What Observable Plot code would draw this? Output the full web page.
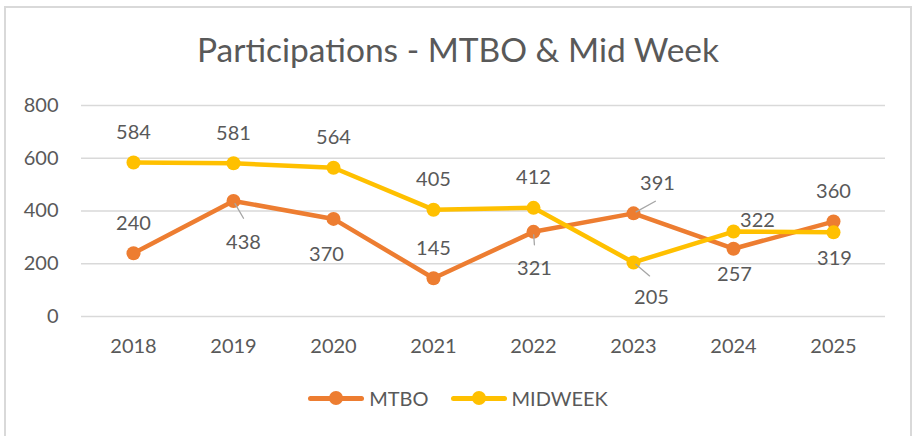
<!DOCTYPE html>
<html>
<head>
<meta charset="utf-8">
<script src="https://cdn.jsdelivr.net/npm/d3@7"></script>
<script src="https://cdn.jsdelivr.net/npm/@observablehq/plot@0.6"></script>
<style>
  html, body { margin: 0; padding: 0; background: #fff; }
  body { width: 916px; height: 436px; overflow: hidden; font-family: Lato, "Open Sans", sans-serif; }
  #wrap { position: relative; width: 916px; height: 436px; }
  #frame { position: absolute; left: 4px; top: 6px; width: 908px; height: 440px; border: 2px solid #d9d9d9; box-sizing: border-box; pointer-events: none; }
  #title { position: absolute; left: 0; width: 916px; top: 28px; text-align: center; font-size: 33.5px; color: #595959; line-height: 42px; }
  #legend { position: absolute; top: 386px; left: 0; width: 916px; display: flex; justify-content: center; align-items: center; gap: 22px; font-size: 20px; color: #595959; padding-left: 0px; box-sizing: border-box; }
  .item { display: flex; align-items: center; gap: 5px; }
  .sym { position: relative; width: 56px; height: 14px; }
  .sym .ln { position: absolute; left: 0; right: 0; top: 5px; height: 4.5px; border-radius: 3px; }
  .sym .dt { position: absolute; left: 21px; top: 0; width: 14px; height: 14px; border-radius: 50%; }
  #chart { position: absolute; left: 0; top: 0; }
</style>
</head>
<body>
<div id="wrap">
  <div id="chart"></div>
  <div id="frame"></div>
  <div id="title">Participations - MTBO &amp; Mid Week</div>
  <div id="legend"></div>
</div>
<script>
const years = ["2018", "2019", "2020", "2021", "2022", "2023", "2024", "2025"];
const seriesNames = ["MTBO", "MIDWEEK"];
const mtbo = [240, 438, 370, 145, 321, 391, 257, 360];
const midweek = [584, 581, 564, 405, 412, 205, 322, 319];
const yTicks = [0, 200, 400, 600, 800];
const colors = ["#ED7D31", "#FFC000"];

// label placement (annotation layout, like Excel's data-label positions)
const mtboPlacement = ["above", "belowLeaderR", "below", "above", "belowLeader", "aboveLeaderR", "belowNear", "above"];
const midweekPlacement = ["above", "above", "above", "above", "above", "belowLeaderR2", "right", "belowNear"];

const placements = {
  above:         {dx: 0,  dy: -30},
  below:         {dx: -7, dy: 36},
  belowNear:     {dx: 1,  dy: 26},
  belowLeader:   {dx: 1,  dy: 37, rotate: 176, length: 13},
  belowLeaderR:  {dx: 10, dy: 42, rotate: 150, length: 20},
  aboveLeaderR:  {dx: 24, dy: -30, rotate: 61, length: 25},
  belowLeaderR2: {dx: 18, dy: 35, rotate: 130, length: 21},
  right:         {dx: 24, dy: -11}
};

const rows = [];
[mtbo, midweek].forEach((vals, s) => {
  const pl = s === 0 ? mtboPlacement : midweekPlacement;
  vals.forEach((v, i) => rows.push({year: years[i], value: v, series: seriesNames[s], place: pl[i]}));
});

const txt = "#595959";
const fontFam = "Lato, 'Open Sans', sans-serif";
const fs = 20;

const labelMarks = Object.entries(placements).flatMap(([key, p]) => {
  const sub = rows.filter(d => d.place === key);
  if (!sub.length) return [];
  const marks = [];
  if (p.length) {
    marks.push(Plot.vector(sub, {
      x: "year", y: "value", anchor: "start", length: p.length, rotate: p.rotate,
      stroke: "#a6a6a6", strokeWidth: 1.3,
      shape: {draw(ctx, l) { ctx.moveTo(0, -3); ctx.lineTo(0, -l); }}
    }));
  }
  marks.push(Plot.text(sub, {
    x: "year", y: "value", text: d => String(d.value), dx: p.dx, dy: p.dy,
    fill: txt, fontSize: fs, fontFamily: fontFam
  }));
  return marks;
});

const chart = Plot.plot({
  width: 916,
  height: 436,
  marginLeft: 81,
  marginRight: 31,
  marginTop: 105,
  marginBottom: 120,
  style: {fontFamily: fontFam, fontSize: fs + "px", color: txt, background: "transparent", overflow: "visible"},
  x: {type: "point", domain: years, padding: 0.5, label: null, tickSize: 0, tickPadding: 22},
  y: {domain: [0, 800], ticks: yTicks, label: null, tickSize: 0, tickPadding: 23},
  color: {domain: seriesNames, range: colors},
  marks: [
    Plot.gridY(yTicks, {stroke: "#d9d9d9", strokeOpacity: 1, strokeWidth: 1.3}),
    Plot.axisY({ticks: yTicks, tickSize: 0, tickPadding: 23, fill: txt, fontSize: fs}),
    Plot.axisX({tickSize: 0, tickPadding: 22, fill: txt, fontSize: fs}),
    Plot.line(rows, {x: "year", y: "value", z: "series", stroke: d => d.series, strokeWidth: 4.5, strokeLinejoin: "round", strokeLinecap: "round"}),
    Plot.dot(rows, {x: "year", y: "value", fill: d => d.series, r: 7}),
    ...labelMarks
  ]
});
document.getElementById("chart").appendChild(chart);

const legend = document.getElementById("legend");
seriesNames.forEach((name, i) => {
  const item = document.createElement("div");
  item.className = "item";
  item.innerHTML = `<div class="sym"><div class="ln" style="background:${colors[i]}"></div><div class="dt" style="background:${colors[i]}"></div></div><span>${name}</span>`;
  legend.appendChild(item);
});
</script>
</body>
</html>
